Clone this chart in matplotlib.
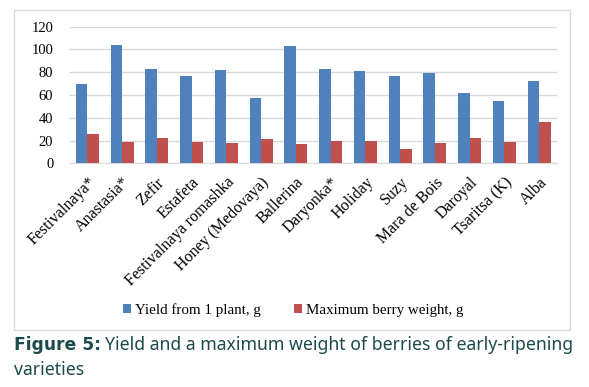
import numpy as np
import matplotlib.pyplot as plt
from matplotlib.patches import Rectangle

# Data
varieties = ['Festivalnaya*', 'Anastasia*', 'Zefir', 'Estafeta',
             'Festivalnaya romashka', 'Honey (Medovaya)', 'Ballerina',
             'Daryonka*', 'Holiday', 'Suzy', 'Mara de Bois', 'Daroyal',
             'Tsaritsa (K)', 'Alba']
yield_plant = [70, 104, 83, 77, 82, 57, 103, 83, 81, 77, 79, 62, 55, 72]
berry_weight = [26, 19, 22, 19, 18, 21, 17, 20, 20, 13, 18, 22, 19, 36]
yticks = [0, 20, 40, 60, 80, 100, 120]

blue = '#4F81BD'
red = '#C0504D'
grid_col = '#d9d9d9'

plt.rcParams['font.family'] = ['Liberation Serif', 'DejaVu Serif']

fig = plt.figure(figsize=(5.89, 3.87), dpi=100)
W, H = 589, 387

# outer chart frame
fig.patches.append(Rectangle((14 / W, 1 - 330 / H), (570 - 14) / W, (330 - 10) / H,
                             transform=fig.transFigure, fill=False,
                             edgecolor=grid_col, linewidth=1.0))

ax = fig.add_axes([70 / W, 1 - 163.3 / H, (556.5 - 70) / W, (163.3 - 26.7) / H])

x = np.arange(len(varieties))
w = 0.33
ax.bar(x - w / 2, yield_plant, w, color=blue, label='Yield from 1 plant, g', zorder=3)
ax.bar(x + w / 2, berry_weight, w, color=red, label='Maximum berry weight, g', zorder=3)

ax.set_xlim(-0.5, len(varieties) - 0.5)
ax.set_ylim(0, 120)
ax.set_yticks(yticks)
ax.tick_params(axis='y', length=0, labelsize=10.5, pad=12)
ax.tick_params(axis='x', length=0, labelsize=11.5, pad=8)
ax.set_xticks(x)
ax.set_xticklabels(varieties, rotation=45, ha='right', rotation_mode='anchor')
ax.yaxis.grid(True, color=grid_col, linewidth=1.0, zorder=0)
for s in ['top', 'right', 'left']:
    ax.spines[s].set_visible(False)
ax.spines['bottom'].set_color(grid_col)

ax.legend(loc='center', bbox_to_anchor=(0.458, -1.075), ncol=2, frameon=False,
          fontsize=10.8, handlelength=0.55, handleheight=0.55, handletextpad=0.25,
          columnspacing=2.2)

# caption
cap_col = '#1d4a4c'
t1 = fig.text(14 / W, 1 - 345 / H, 'Figure 5:', fontsize=12.3, fontweight='bold',
              color=cap_col, va='center', family='DejaVu Sans')
r = fig.canvas.get_renderer()
bb = t1.get_window_extent(r)
fig.text(bb.x1 / fig.bbox.width + 4 / W, 1 - 345 / H,
         'Yield and a maximum weight of berries of early-ripening',
         fontsize=12.7, color=cap_col, va='center', family='Noto Sans')
fig.text(14 / W, 1 - 370 / H, 'varieties', fontsize=12.7, color=cap_col,
         va='center', family='Noto Sans')

fig.savefig('out.png', dpi=100)
